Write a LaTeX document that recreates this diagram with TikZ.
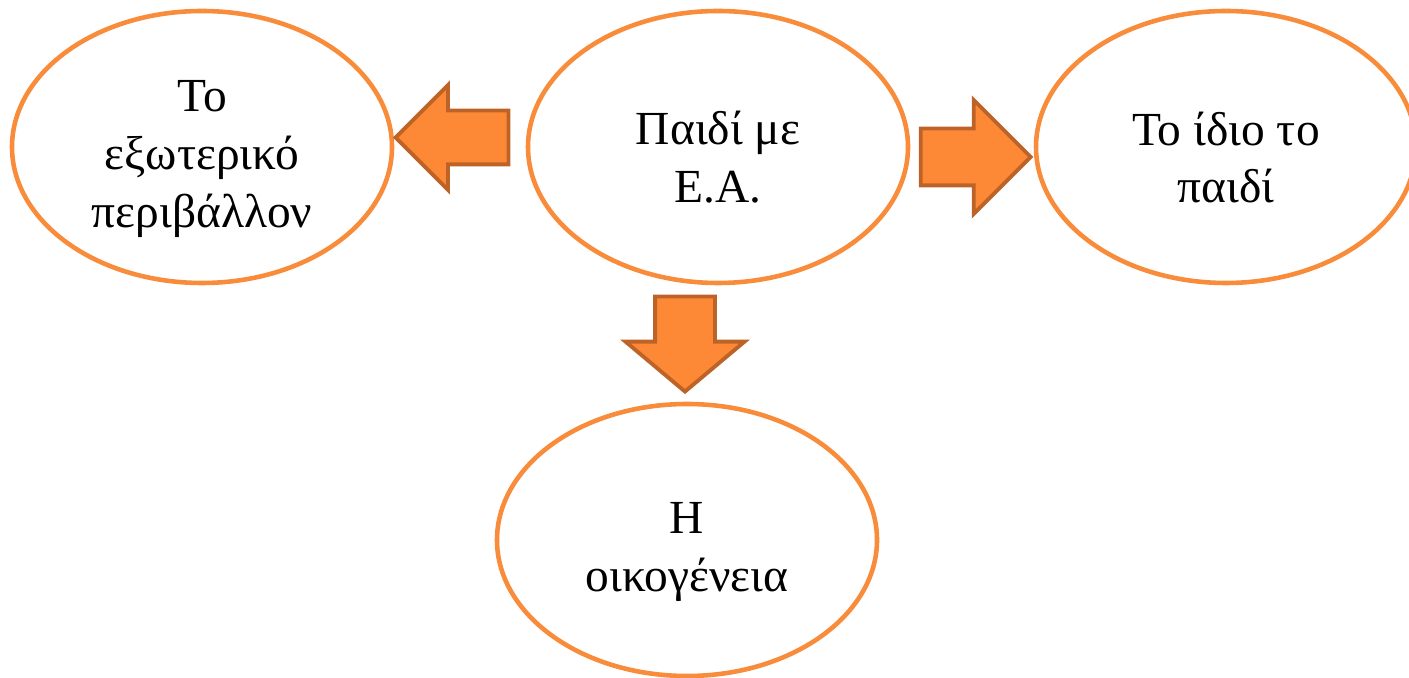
\documentclass[tikz,border=0pt]{standalone}
\usepackage{fontspec}
\setmainfont{Liberation Serif}
\usetikzlibrary{shapes.geometric,shapes.arrows}

\definecolor{ringorange}{RGB}{248,140,58}
\definecolor{arrowfill}{RGB}{253,137,54}
\definecolor{arrowedge}{RGB}{190,99,40}

\newcommand{\topstrut}{\rule{0pt}{31pt}}

\tikzset{
	topic/.style={ellipse, draw=ringorange, line width=2.6pt, fill=white,
		minimum width=7.6cm, minimum height=5.44cm, inner sep=0pt, align=center,
		font=\fontsize{27}{33}\selectfont},
	blockarrow/.style={single arrow, draw=arrowedge, fill=arrowfill, line width=2.2pt,
		inner sep=0pt, single arrow head indent=0pt}
}

\begin{document}
\begin{tikzpicture}
			\useasboundingbox (0,0) rectangle (28.18,13.54);

			\node[topic] (child) at (14.36,10.60) {\topstrut Παιδί με\\Ε.Α.};
			\node[topic] (outside) at (4.04,10.60) {\topstrut Το\\εξωτερικό\\περιβάλλον};
			\node[topic] (self) at (24.52,10.60) {\topstrut Το ίδιο το\\παιδί};
			\node[topic] (family) at (13.74,2.74) {\topstrut Η\\οικογένεια};

			\node[blockarrow, shape border rotate=180, inner ysep=0.5cm,
				single arrow head extend=0.51cm, minimum height=2.26cm] (toout) at (9.31,10.79) {};
			\node[blockarrow, inner ysep=0.53cm,
				single arrow head extend=0.57cm, minimum height=2.2cm] (toself) at (19.23,10.40) {};
			\node[blockarrow, shape border rotate=270, inner xsep=0.56cm, single arrow tip angle=100,
				single arrow head extend=0.59cm, minimum height=1.9cm] (tofam) at (13.70,6.91) {};
		\end{tikzpicture}
\end{document}
